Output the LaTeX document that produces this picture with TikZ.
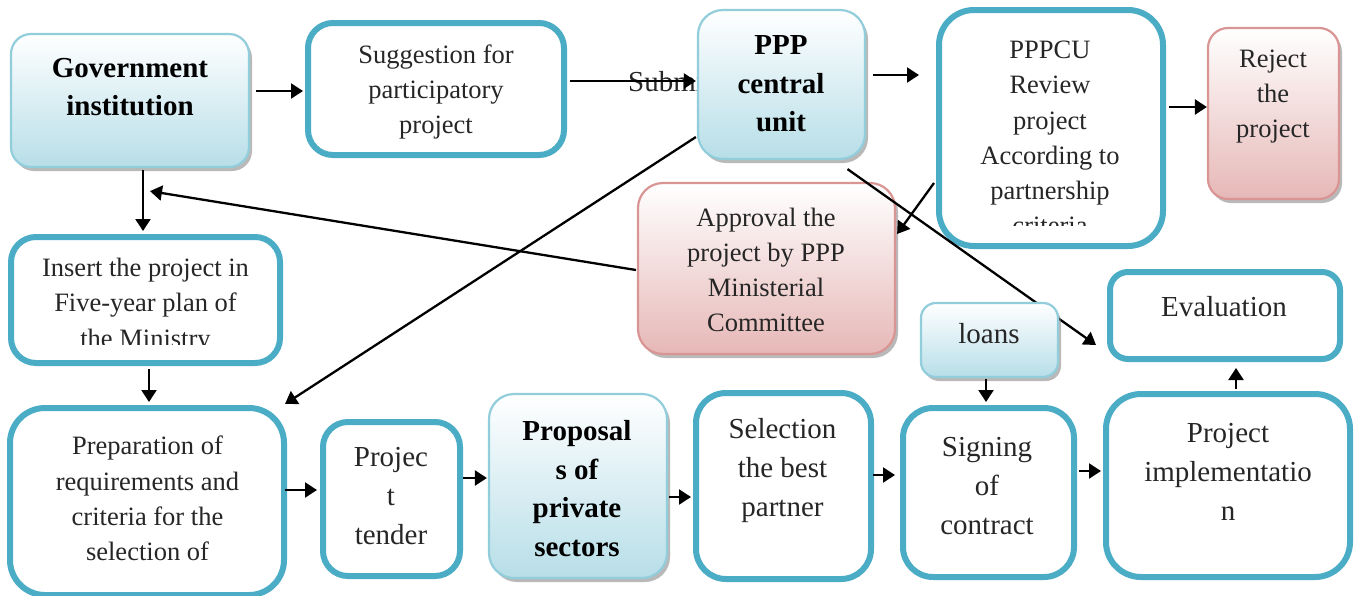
\documentclass[tikz,border=0pt]{standalone}
\usepackage{fontspec}
\setmainfont{Liberation Serif}
\usetikzlibrary{arrows.meta,shadows,calc}
\definecolor{thickc}{RGB}{75,172,198}
\definecolor{bluebd}{RGB}{146,205,220}
\definecolor{bluebot}{RGB}{183,222,232}
\definecolor{pinkbd}{RGB}{217,149,148}
\definecolor{pinkbot}{RGB}{230,184,183}
\definecolor{textgray}{RGB}{38,38,38}
\tikzset{
  thickbox/.style={draw=thickc, line width=6pt, fill=white, rounded corners=#1, inner sep=0pt},
  thickbox/.default=25pt,
  bluebox/.style={draw=bluebd, line width=2.2pt, top color=white, bottom color=bluebot, rounded corners=#1, inner sep=0pt,
     drop shadow={shadow xshift=3pt, shadow yshift=-4pt, fill=black!50, opacity=0.55}},
  bluebox/.default=22pt,
  pinkbox/.style={draw=pinkbd, line width=2.2pt, top color=white, bottom color=pinkbot, rounded corners=#1, inner sep=0pt,
     drop shadow={shadow xshift=3pt, shadow yshift=-4pt, fill=black!50, opacity=0.55}},
  pinkbox/.default=22pt,
  lbl/.style={font=\fontsize{26.5}{35.2}\selectfont, text=textgray, align=center, inner sep=0pt},
  lbll/.style={font=\fontsize{29}{39}\selectfont, text=textgray, align=center, inner sep=0pt},
  lblb/.style={font=\fontsize{29}{38.5}\selectfont\bfseries, text=black, align=center, inner sep=0pt},
  arr/.style={line width=2.3pt, -{Triangle[length=12pt,width=15pt]}},
}
\begin{document}
\begin{tikzpicture}[x=1pt,y=-1pt]
\useasboundingbox[fill=white] (0,0) rectangle (1361,595);

% text hidden partly by the PPP box
\node[lbll, anchor=base west] (submit) at (628,91) {Submit};

% boxes
\node[bluebox=20pt, minimum width=238pt, minimum height=133pt] (gov) at (130,100.5) {};
\node[thickbox, minimum width=256pt, minimum height=132pt] (sugg) at (436,89) {};
\node[bluebox=25pt, minimum width=167pt, minimum height=149pt] (ppp) at (781.5,84.5) {};
\node[thickbox=35pt, minimum width=224pt, minimum height=236pt] (pppcu) at (1051,128) {};
\node[pinkbox=20pt, minimum width=131pt, minimum height=171pt] (reject) at (1273.5,113.5) {};
\node[pinkbox=25pt, minimum width=257pt, minimum height=171pt] (approval) at (766.5,268.5) {};
\node[thickbox, minimum width=269pt, minimum height=126pt] (insert) at (145.5,300) {};
\node[thickbox=18pt, minimum width=230pt, minimum height=87pt] (eval) at (1225,315.5) {};
\node[thickbox=35pt, minimum width=274pt, minimum height=187pt] (prep) at (147,501.5) {};
\node[thickbox=25pt, minimum width=137pt, minimum height=154pt] (tender) at (391.5,499) {};
\node[bluebox=25pt, minimum width=178pt, minimum height=184pt] (prop) at (578,486) {};
\node[thickbox=30pt, minimum width=175pt, minimum height=186pt] (sel) at (783.5,486) {};
\node[thickbox=30pt, minimum width=171pt, minimum height=169pt] (sign) at (988.5,492.5) {};
\node[thickbox=35pt, minimum width=244pt, minimum height=183pt] (impl) at (1228,485.5) {};

% connector passing behind the loans box
\draw[arr] ($(ppp.south)+(66,9)$) -- ($(eval.south west)+(-11,-17)$);

\node[bluebox=15pt, minimum width=137pt, minimum height=74pt] (loans) at (989.5,340) {};

% texts
\node[lblb] (govt) at (130,87) {Government\\institution};
\node[lbl] (suggt) at (436,92) {Suggestion for\\participatory\\project};
\node[lblb] (pppt) at (781,84) {PPP\\central\\unit};
\begin{scope}
  \clip (940,10) rectangle (1160,225);
  \node[lbl] (pppcut) at (1050,138) {PPPCU\\Review\\project\\According to\\partnership\\criteria};
\end{scope}
\node[lbl] (rejectt) at (1273,96.5) {Reject\\the\\project};
\node[lbl] (approvalt) at (766,270) {Approval the\\project by PPP\\Ministerial\\Committee};
\begin{scope}
  \clip (12,238) rectangle (278,344);
  \node[lbl] (insertt) at (145.5,305.5) {Insert the project in\\Five-year plan of\\the Ministry};
\end{scope}
\node[lbll] (loanst) at (989,334) {loans};
\node[lbll] (evalt) at (1224,307) {Evaluation};
\node[lbl] (prept) at (147.5,498.5) {Preparation of\\requirements and\\criteria for the\\selection of};
\node[lbll] (tendert) at (391,496.5) {Projec\\t\\tender};
\node[lblb] (propt) at (577,488.5) {Proposal\\s of\\private\\sectors};
\node[lbll] (selt) at (782.5,470.5) {Selection\\the best\\partner};
\node[lbll] (signt) at (987,486.5) {Signing\\of\\contract};
\node[lbll] (implt) at (1228,472) {Project\\implementatio\\n};

% connectors
\draw[arr] ($(gov.east)+(6,-9.5)$) -- ($(sugg.west)+(-2,2)$);
\draw[arr] ($(sugg.east)+(3,-8)$) -- ($(ppp.west)+(-1,-3.5)$);
\draw[arr] ($(ppp.east)+(7,-9.5)$) -- ($(pppcu.west)+(-17,-53)$);
\draw[arr] ($(pppcu.east)+(3,-21)$) -- ($(reject.west)+(0,-6.5)$);
\draw[arr] ($(pppcu.west)+(-2,55)$) -- ($(approval.east)+(1,-34.5)$);
\draw[arr] ($(ppp.west)+(-1,52.5)$) -- ($(prep.north east)+(-2,-1)$);
\draw[arr] ($(approval.west)+(-1,1.5)$) -- ($(gov.south)+(20,23)$);
\draw[arr] ($(gov.south)+(13,2)$) -- ($(insert.north)+(-2.5,-3)$);
\draw[arr] ($(insert.south)+(3.5,3)$) -- ($(prep.north)+(2,-3)$);
\draw[arr] ($(prep.east)+(-2,-11.5)$) -- ($(tender.west)+(-3,-9)$);
\draw[arr] ($(tender.east)+(0,-21)$) -- ($(prop.west)+(-1,-8)$);
\draw[arr] ($(prop.east)+(1,11)$) -- ($(sel.west)+(-2,11)$);
\draw[arr] ($(sel.east)+(-1,-11)$) -- ($(sign.west)+(-5,-17.5)$);
\draw[arr] ($(loans.south)+(-3.5,1)$) -- ($(sign.north)+(-2.5,-3)$);
\draw[arr] ($(sign.east)+(2,-21.5)$) -- ($(impl.west)+(-2,-14.5)$);
\draw[arr] ($(impl.north)+(8,-2)$) -- ($(eval.south)+(11,6)$);
\end{tikzpicture}
\end{document}
